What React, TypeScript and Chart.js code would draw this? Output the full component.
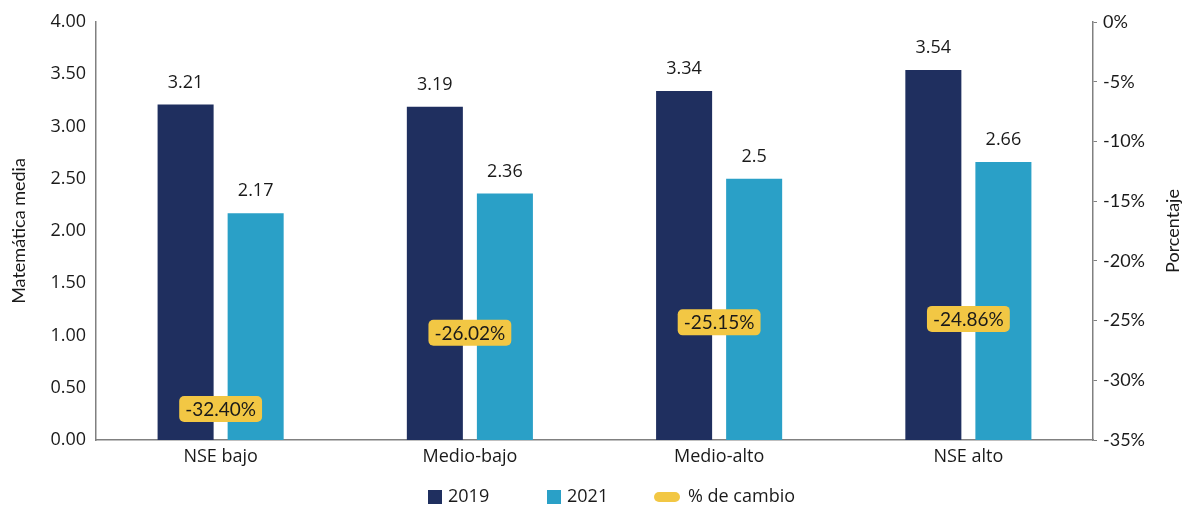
import React, { useEffect, useRef } from "react";
import { Chart, registerables } from "chart.js";

Chart.register(...registerables);

const categories = ["NSE bajo", "Medio-bajo", "Medio-alto", "NSE alto"];
const values2019 = [3.21, 3.19, 3.34, 3.54];
const values2021 = [2.17, 2.36, 2.5, 2.66];
const pctChange = [-32.4, -26.02, -25.15, -24.86];
const pctLabels = ["-32.40%", "-26.02%", "-25.15%", "-24.86%"];
const rightTitle = "Porcentaje";

const NAVY = "#1f2f5f";
const TEAL = "#2aa0c7";
const YELLOW = "#f2c744";
const TEXT = "#1a1a1a";
const AXIS = "#808080";
const FONT = "'Open Sans', 'Noto Sans', sans-serif";
const FONT2 = "Lato, 'Open Sans', sans-serif";

const labelsPlugin = {
  id: "customLabels",
  afterDatasetsDraw(chart: any) {
    const ctx = chart.ctx;
    ctx.save();
    ctx.font = `18px ${FONT}`;
    ctx.textAlign = "center";
    ctx.textBaseline = "middle";
    ctx.fillStyle = TEXT;
    [0, 1].forEach((di) => {
      const meta = chart.getDatasetMeta(di);
      const data = chart.data.datasets[di].data as number[];
      meta.data.forEach((bar: any, i: number) => {
        ctx.fillText(String(data[i]), bar.x, bar.y - 22);
      });
    });
    ctx.font = `19px ${FONT2}`;
    const lineMeta = chart.getDatasetMeta(2);
    lineMeta.data.forEach((pt: any, i: number) => {
      const txt = pctLabels[i];
      const w = ctx.measureText(txt).width + 12;
      const h = 26;
      ctx.fillStyle = YELLOW;
      ctx.beginPath();
      (ctx as any).roundRect(pt.x - w / 2, pt.y - h / 2, w, h, 5);
      ctx.fill();
      ctx.fillStyle = TEXT;
      ctx.fillText(txt, pt.x, pt.y + 1);
    });
    ctx.restore();
  },
  afterDraw(chart: any) {
    const ctx = chart.ctx;
    const sx = chart.width / 1183;
    const y = 497;
    ctx.save();
    // right axis title, rotated like the left one
    const area = chart.chartArea;
    ctx.translate(chart.width - 10, (area.top + area.bottom) / 2);
    ctx.rotate(-Math.PI / 2);
    ctx.font = `18px ${FONT2}`;
    ctx.textAlign = "center";
    ctx.textBaseline = "middle";
    ctx.fillStyle = TEXT;
    ctx.fillText(rightTitle, 0, 0);
    ctx.restore();

    ctx.save();
    ctx.font = `18px ${FONT}`;
    ctx.textAlign = "left";
    ctx.textBaseline = "middle";
    const items = [
      { x: 428, label: "2019", color: NAVY, kind: "box" },
      { x: 547, label: "2021", color: TEAL, kind: "box" },
      { x: 654, label: "% de cambio", color: YELLOW, kind: "line" },
    ];
    items.forEach((it) => {
      const x = it.x * sx;
      ctx.fillStyle = it.color;
      let tx;
      if (it.kind === "box") {
        ctx.fillRect(x, y - 7, 14, 14);
        tx = x + 20;
      } else {
        ctx.beginPath();
        (ctx as any).roundRect(x, y - 5, 26, 10, 5);
        ctx.fill();
        tx = x + 34;
      }
      ctx.fillStyle = TEXT;
      ctx.fillText(it.label, tx, y);
    });
    ctx.restore();
  },
};

export default function App() {
  const ref = useRef<HTMLCanvasElement | null>(null);
  useEffect(() => {
    if (!ref.current) return;
    const chart = new Chart(ref.current, {
      type: "bar",
      data: {
        labels: categories,
        datasets: [
          {
            label: "2019",
            data: values2019,
            backgroundColor: NAVY,
            yAxisID: "y",
            categoryPercentage: 0.562,
            barPercentage: 0.8,
            order: 2,
          },
          {
            label: "2021",
            data: values2021,
            backgroundColor: TEAL,
            yAxisID: "y",
            categoryPercentage: 0.562,
            barPercentage: 0.8,
            order: 2,
          },
          {
            type: "line",
            label: "% de cambio",
            data: pctChange,
            yAxisID: "y1",
            showLine: false,
            pointRadius: 0,
            borderColor: YELLOW,
            backgroundColor: YELLOW,
            order: 1,
          } as any,
        ],
      },
      options: {
        animation: false,
        responsive: true,
        maintainAspectRatio: false,
        layout: { padding: { top: 22, bottom: 36, left: 0, right: 0 } },
        plugins: {
          legend: { display: false },
          tooltip: { enabled: false },
        },
        scales: {
          x: {
            grid: { display: false, drawTicks: false },
            border: { display: true, color: AXIS, width: 1.5 },
            ticks: { color: TEXT, font: { family: FONT, size: 18 }, padding: 6 },
            afterFit: (s: any) => {
              s.height = 30;
            },
          },
          y: {
            position: "left",
            min: 0,
            max: 4,
            grid: { display: false, drawTicks: false },
            border: { display: true, color: AXIS, width: 1.5 },
            ticks: {
              stepSize: 0.5,
              color: TEXT,
              font: { family: FONT, size: 18 },
              padding: 10,
              callback: (v: any) => Number(v).toFixed(2),
            },
            title: {
              display: true,
              text: "Matemática media",
              color: TEXT,
              font: { family: FONT2, size: 18 },
              padding: { top: 8, bottom: 4 },
            },
            afterFit: (s: any) => {
              s.width = 96;
            },
          },
          y1: {
            position: "right",
            min: -35,
            max: 0,
            grid: {
              display: true,
              drawOnChartArea: false,
              drawTicks: true,
              tickLength: 4,
              tickColor: AXIS,
            },
            border: { display: true, color: AXIS, width: 1.5 },
            ticks: {
              stepSize: 5,
              color: TEXT,
              font: { family: FONT2, size: 18 },
              padding: 6,
              callback: (v: any) => `${v}%`,
            },
            afterFit: (s: any) => {
              s.width = 90;
            },
          },
        },
      },
      plugins: [labelsPlugin],
    });
    return () => chart.destroy();
  }, []);
  return (
    <div style={{ position: "fixed", left: 0, top: 0, width: 1183, height: 506, background: "#fff" }}>
      <canvas ref={ref} />
    </div>
  );
}
